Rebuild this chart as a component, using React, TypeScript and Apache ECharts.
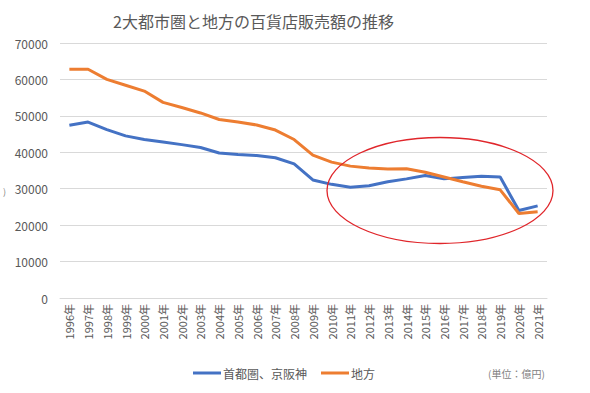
import React, { useEffect, useRef } from "react";
import * as echarts from "echarts";

const years = [
  "1996年", "1997年", "1998年", "1999年", "2000年", "2001年", "2002年", "2003年", "2004年",
  "2005年", "2006年", "2007年", "2008年", "2009年", "2010年", "2011年", "2012年", "2013年",
  "2014年", "2015年", "2016年", "2017年", "2018年", "2019年", "2020年", "2021年",
];
const metro = [
  47400, 48300, 46200, 44500, 43500, 42800, 42100, 41300, 39800, 39400, 39100, 38500, 36800,
  32400, 31200, 30400, 30800, 31900, 32700, 33600, 32700, 33100, 33400, 33200, 24000, 25300,
];
const regional = [
  62800, 62800, 60000, 58400, 56800, 53700, 52300, 50800, 49000, 48300, 47500, 46100, 43500,
  39200, 37300, 36200, 35700, 35400, 35500, 34500, 33200, 31900, 30700, 29700, 23200, 23700,
];
const FONT = "'Noto Sans CJK JP', 'Noto Sans', sans-serif";

export default function App() {
  const ref = useRef<HTMLDivElement>(null);
  useEffect(() => {
    if (!ref.current) return;
    const chart = echarts.init(ref.current, undefined, { renderer: "svg" });
    chart.setOption({
      animation: false,
      textStyle: { fontFamily: FONT },
      title: {
        text: "2大都市圏と地方の百貨店販売額の推移",
        left: 108,
        top: 8,
        textStyle: { fontSize: 16, fontWeight: "normal", color: "#595959", fontFamily: FONT },
      },
      grid: { left: 60, right: 43, top: 43, bottom: 95 },
      legend: {
        bottom: 9,
        left: 188,
        icon: "rect",
        itemWidth: 28,
        itemHeight: 3,
        itemGap: 14,
        textStyle: { fontSize: 12, color: "#595959", fontFamily: FONT, padding: [0, 0, 0, -3] },
        data: ["首都圏、京阪神", "地方"],
      },
      xAxis: {
        type: "category",
        data: years,
        boundaryGap: true,
        axisLine: { lineStyle: { color: "#d9d9d9" } },
        axisTick: { show: false },
        axisLabel: { rotate: 90, fontSize: 11, color: "#595959", margin: 6, interval: 0 },
      },
      yAxis: {
        type: "value",
        min: 0,
        max: 70000,
        interval: 10000,
        axisLine: { show: false },
        axisTick: { show: false },
        axisLabel: { fontSize: 12, color: "#595959", margin: 12, formatter: (v: number) => String(v) },
        splitLine: { lineStyle: { color: "#d9d9d9" } },
      },
      series: [
        {
          name: "首都圏、京阪神",
          type: "line",
          data: metro,
          symbol: "none",
          lineStyle: { color: "#4472c4", width: 3 },
          itemStyle: { color: "#4472c4" },
        },
        {
          name: "地方",
          type: "line",
          data: regional,
          symbol: "none",
          lineStyle: { color: "#ed7d31", width: 3 },
          itemStyle: { color: "#ed7d31" },
        },
      ],
      graphic: [
        {
          type: "ellipse",
          shape: { cx: 440, cy: 190.5, rx: 113, ry: 53 },
          style: { fill: "none", stroke: "#e0262b", lineWidth: 1.3 },
          z: 100,
        },
        {
          type: "text",
          x: 488,
          y: 368,
          style: { text: "(単位：億円)", fontSize: 10, fill: "#7f7f7f", fontFamily: FONT },
        },
        {
          type: "text",
          x: 3,
          y: 187,
          style: { text: ")", fontSize: 9, fill: "#7f7f7f", fontFamily: FONT },
        },
      ],
    });
    return () => chart.dispose();
  }, []);
  return <div ref={ref} style={{ width: 590, height: 393, position: "absolute", left: 0, top: 0 }} />;
}
